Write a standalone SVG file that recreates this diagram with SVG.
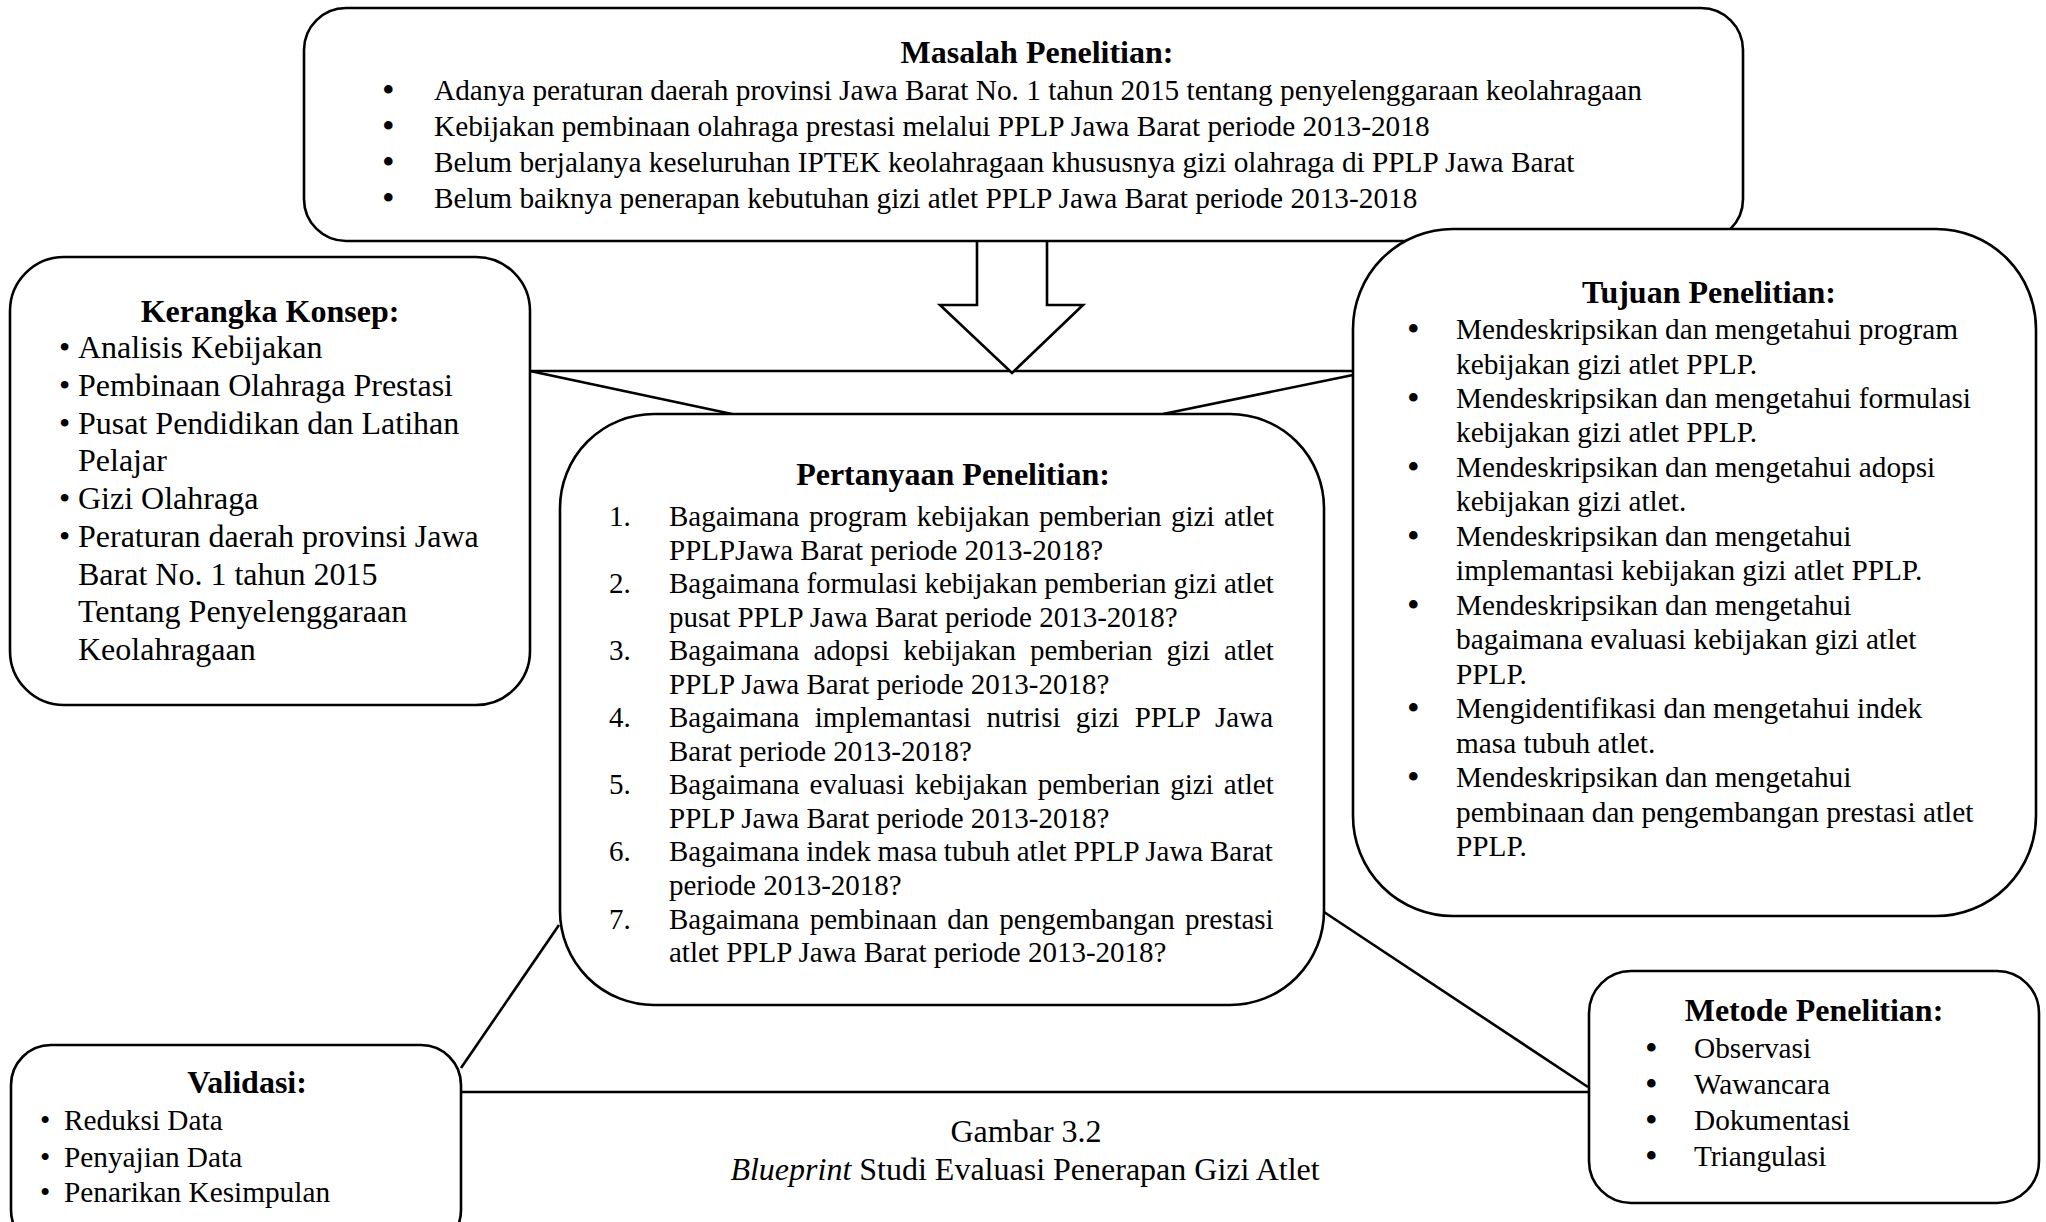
<svg xmlns="http://www.w3.org/2000/svg" width="2046" height="1222" viewBox="0 0 2046 1222">
<style>
.box{fill:#fff;stroke:#000;stroke-width:2.6}
.ln{fill:none;stroke:#000;stroke-width:2.6}
text{font-family:"Liberation Serif","Times New Roman",serif;fill:#000;font-size:29.3px}
.h{font-weight:bold;font-size:32px;text-anchor:middle}
.k{font-size:32px}
.p{font-size:29px}
.c{font-size:32px;text-anchor:middle}
.b{font-size:36px}
</style>
<rect width="2046" height="1222" fill="#fff"/>
<g id="connectors">
<line class="ln" x1="530" y1="371" x2="1353" y2="371"/>
<line class="ln" x1="530" y1="371" x2="732" y2="414"/>
<line class="ln" x1="1353" y1="375" x2="1163" y2="414"/>
<line class="ln" x1="559" y1="925" x2="461" y2="1068"/>
<line class="ln" x1="1324" y1="912" x2="1588" y2="1087"/>
<line class="ln" x1="461" y1="1092" x2="1589" y2="1092"/>
<path class="ln" style="fill:#fff" d="M977,241 V305 H940 L1012,373 L1083,305 H1047 V241"/>
</g>
<g id="masalah">
<rect class="box" x="304" y="8" width="1439" height="233" rx="42"/>
<text class="h" x="1037" y="63">Masalah Penelitian:</text>
<text class="b" x="382" y="102">•</text><text x="434" y="100">Adanya peraturan daerah provinsi Jawa Barat No. 1 tahun 2015 tentang penyelenggaraan keolahragaan</text>
<text class="b" x="382" y="138">•</text><text x="434" y="136">Kebijakan pembinaan olahraga prestasi melalui PPLP Jawa Barat periode 2013-2018</text>
<text class="b" x="382" y="174">•</text><text x="434" y="172">Belum berjalanya keseluruhan IPTEK keolahragaan khususnya gizi olahraga di PPLP Jawa Barat</text>
<text class="b" x="382" y="210">•</text><text x="434" y="208">Belum baiknya penerapan kebutuhan gizi atlet PPLP Jawa Barat periode 2013-2018</text>
</g>
<g id="kerangka">
<rect class="box" x="10" y="257" width="520" height="448" rx="54"/>
<text class="h" x="270" y="322">Kerangka Konsep:</text>
<text class="k" x="59" y="358">•</text><text class="k" x="78" y="358">Analisis Kebijakan</text>
<text class="k" x="59" y="395.8">•</text><text class="k" x="78" y="395.8">Pembinaan Olahraga Prestasi</text>
<text class="k" x="59" y="433.5">•</text><text class="k" x="78" y="433.5">Pusat Pendidikan dan Latihan</text>
<text class="k" x="78" y="471.3">Pelajar</text>
<text class="k" x="59" y="509">•</text><text class="k" x="78" y="509">Gizi Olahraga</text>
<text class="k" x="59" y="546.8">•</text><text class="k" x="78" y="546.8">Peraturan daerah provinsi Jawa</text>
<text class="k" x="78" y="584.5">Barat No. 1 tahun 2015</text>
<text class="k" x="78" y="622.3">Tentang Penyelenggaraan</text>
<text class="k" x="78" y="660">Keolahragaan</text>
</g>
<g id="tujuan">
<rect class="box" x="1353" y="229" width="683" height="687" rx="100"/>
<text class="h" x="1709" y="303">Tujuan Penelitian:</text>
<text class="b" x="1407" y="341">•</text><text x="1456" y="339">Mendeskripsikan dan mengetahui program</text>
<text x="1456" y="373.5">kebijakan gizi atlet PPLP.</text>
<text class="b" x="1407" y="409.9">•</text><text x="1456" y="407.9">Mendeskripsikan dan mengetahui formulasi</text>
<text x="1456" y="442.4">kebijakan gizi atlet PPLP.</text>
<text class="b" x="1407" y="478.9">•</text><text x="1456" y="476.9">Mendeskripsikan dan mengetahui adopsi</text>
<text x="1456" y="511.4">kebijakan gizi atlet.</text>
<text class="b" x="1407" y="547.8">•</text><text x="1456" y="545.8">Mendeskripsikan dan mengetahui</text>
<text x="1456" y="580.3">implemantasi kebijakan gizi atlet PPLP.</text>
<text class="b" x="1407" y="616.8">•</text><text x="1456" y="614.8">Mendeskripsikan dan mengetahui</text>
<text x="1456" y="649.2">bagaimana evaluasi kebijakan gizi atlet</text>
<text x="1456" y="683.7">PPLP.</text>
<text class="b" x="1407" y="720.2">•</text><text x="1456" y="718.2">Mengidentifikasi dan mengetahui indek</text>
<text x="1456" y="752.6">masa tubuh atlet.</text>
<text class="b" x="1407" y="789.1">•</text><text x="1456" y="787.1">Mendeskripsikan dan mengetahui</text>
<text x="1456" y="821.6">pembinaan dan pengembangan prestasi atlet</text>
<text x="1456" y="856.1">PPLP.</text>
</g>
<g id="pertanyaan">
<rect class="box" x="560" y="414" width="764" height="591" rx="94"/>
<text class="h" x="953" y="485">Pertanyaan Penelitian:</text>
<text class="p" x="609" y="526">1.</text><text class="p" x="669" y="526" style="word-spacing:2.3px">Bagaimana program kebijakan pemberian gizi atlet</text>
<text class="p" x="669" y="559.5">PPLPJawa Barat periode 2013-2018?</text>
<text class="p" x="609" y="593.1">2.</text><text class="p" x="669" y="593.1" style="word-spacing:-0.3px">Bagaimana formulasi kebijakan pemberian gizi atlet</text>
<text class="p" x="669" y="626.6">pusat PPLP Jawa Barat periode 2013-2018?</text>
<text class="p" x="609" y="660.2">3.</text><text class="p" x="669" y="660.2" style="word-spacing:6.8px">Bagaimana adopsi kebijakan pemberian gizi atlet</text>
<text class="p" x="669" y="693.7">PPLP Jawa Barat periode 2013-2018?</text>
<text class="p" x="609" y="727.2">4.</text><text class="p" x="669" y="727.2" style="word-spacing:8.1px">Bagaimana implemantasi nutrisi gizi PPLP Jawa</text>
<text class="p" x="669" y="760.8">Barat periode 2013-2018?</text>
<text class="p" x="609" y="794.3">5.</text><text class="p" x="669" y="794.3" style="word-spacing:2.9px">Bagaimana evaluasi kebijakan pemberian gizi atlet</text>
<text class="p" x="669" y="827.9">PPLP Jawa Barat periode 2013-2018?</text>
<text class="p" x="609" y="861.4">6.</text><text class="p" x="669" y="861.4" style="word-spacing:-0.45px">Bagaimana indek masa tubuh atlet PPLP Jawa Barat</text>
<text class="p" x="669" y="894.9">periode 2013-2018?</text>
<text class="p" x="609" y="928.5">7.</text><text class="p" x="669" y="928.5" style="word-spacing:3px">Bagaimana pembinaan dan pengembangan prestasi</text>
<text class="p" x="669" y="962">atlet PPLP Jawa Barat periode 2013-2018?</text>
</g>
<g id="validasi">
<rect class="box" x="11" y="1045" width="450" height="205" rx="40"/>
<text class="h" x="247" y="1093">Validasi:</text>
<text x="40" y="1130">•</text><text x="64" y="1130">Reduksi Data</text>
<text x="40" y="1167">•</text><text x="64" y="1167">Penyajian Data</text>
<text x="40" y="1202">•</text><text x="64" y="1202">Penarikan Kesimpulan</text>
</g>
<g id="metode">
<rect class="box" x="1589" y="971" width="450" height="232" rx="42"/>
<text class="h" x="1814" y="1021">Metode Penelitian:</text>
<text class="b" x="1645" y="1060">•</text><text x="1694" y="1058">Observasi</text>
<text class="b" x="1645" y="1096">•</text><text x="1694" y="1094">Wawancara</text>
<text class="b" x="1645" y="1132">•</text><text x="1694" y="1130">Dokumentasi</text>
<text class="b" x="1645" y="1168">•</text><text x="1694" y="1166">Triangulasi</text>
</g>
<g id="caption">
<text class="c" x="1026" y="1142">Gambar 3.2</text>
<text class="c" x="1025" y="1180"><tspan font-style="italic">Blueprint</tspan> Studi Evaluasi Penerapan Gizi Atlet</text>
</g>
</svg>
